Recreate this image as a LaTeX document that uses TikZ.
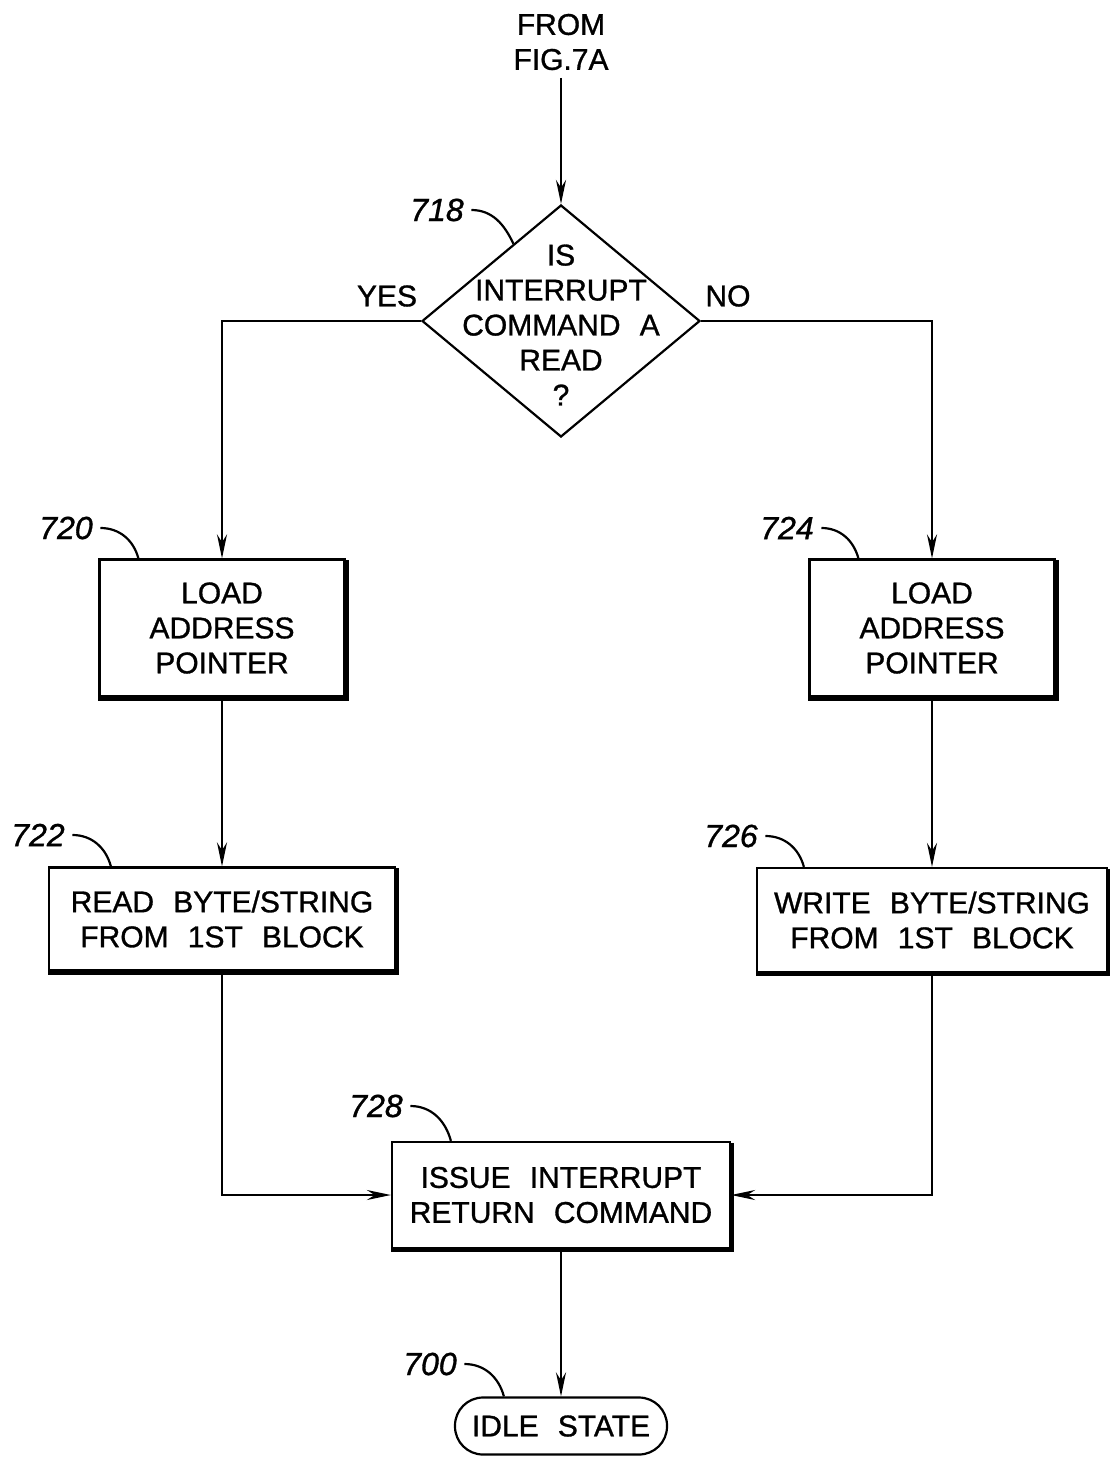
\documentclass[tikz,border=0pt]{standalone}
\usepackage{fontspec}
\setmainfont{Liberation Sans}[WordSpace=2.3,FakeBold=1]
\usetikzlibrary{arrows.meta,calc,positioning,shapes.geometric}

\begin{document}
\begin{tikzpicture}[x=.5pt,y=-.5pt,line width=1.1pt,
    txt/.style={font=\fontsize{15}{17.5}\selectfont,align=center},
    stepbox/.style={draw,txt,inner sep=0pt},
    refnum/.style={font=\fontsize{16}{16}\selectfont\itshape},
    arr/.style={-{Stealth[length=12pt,width=5pt]}}]
  \useasboundingbox(0,0)rectangle(1109,1457);
  % entry and decision
  \node[txt](from)at(561,42){FROM\\FIG.7A};
  \node[draw,diamond,minimum width=139pt,minimum height=116pt,inner sep=0pt](d718)at(561,321){};
  \node[txt](t718)at(561,325){IS\\INTERRUPT\\COMMAND A\\READ\\?};
  \node[txt](yes)at(387,296){YES};
  \node[txt](no)at(728,296){NO};
  % steps
  \node[stepbox,minimum width=122.5pt,minimum height=68.5pt](b720)at(222,628){LOAD\\ADDRESS\\POINTER};
  \node[stepbox,minimum width=122.5pt,minimum height=68.5pt](b724)at(932,628){LOAD\\ADDRESS\\POINTER};
  \node[stepbox,minimum width=173pt,minimum height=51.5pt](b722)at(222,919){READ BYTE/STRING\\FROM 1ST BLOCK};
  \node[stepbox,minimum width=175pt,minimum height=52pt](b726)at(932,920){WRITE BYTE/STRING\\FROM 1ST BLOCK};
  \node[stepbox,minimum width=169pt,minimum height=53pt](b728)at(561,1195){ISSUE INTERRUPT\\RETURN COMMAND};
  \node[draw,txt,rounded corners=14pt,minimum width=106pt,minimum height=28.5pt](t700)at(561,1426){IDLE STATE};
  \foreach \n in {b720,b724,b722,b726,b728}
    \draw[line width=2pt]($(\n.north east)+(1,2)$)--($(\n.south east)+(1,1)$)--($(\n.south west)+(0,1)$);
  % reference numerals
  \node[refnum](l718)at(437,210){718};
  \node[refnum](l720)at(66,528){720};
  \node[refnum](l724)at(787,528){724};
  \node[refnum](l722)at(38,835){722};
  \node[refnum](l726)at(731,836){726};
  \node[refnum](l728)at(376,1106){728};
  \node[refnum](l700)at(430,1364){700};
  \draw(l718.east)to[out=0,in=115]($(d718.north)!.34!(d718.west)$);
  \draw(l720.east)to[out=0,in=105]($(b720.north west)+(40,0)$);
  \draw(l724.east)to[out=0,in=105]($(b724.north west)+(50,0)$);
  \draw(l722.east)to[out=0,in=105]($(b722.north west)+(63,0)$);
  \draw(l726.east)to[out=0,in=105]($(b726.north west)+(48,0)$);
  \draw(l728.east)to[out=0,in=105]($(b728.north west)+(60,0)$);
  \draw(l700.east)to[out=0,in=105]($(t700.north west)+(50,0)$);
  % flow
  \draw[arr](from)--(d718.north);
  \draw[arr](d718.west)-|(b720.north);
  \draw[arr](d718.east)-|(b724.north);
  \draw[arr](b720)--(b722);
  \draw[arr](b724)--(b726);
  \draw[arr](b722)|-(b728);
  \draw[arr](b726)|-(b728);
  \draw[arr](b728)--(t700);
\end{tikzpicture}
\end{document}
